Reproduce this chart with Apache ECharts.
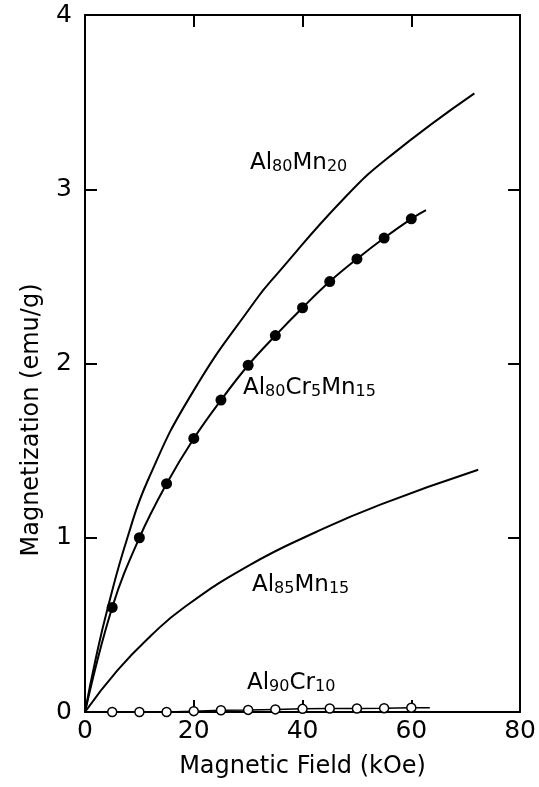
<!DOCTYPE html>
<html>
<head>
<meta charset="utf-8">
<script src="https://cdn.jsdelivr.net/npm/echarts@6/dist/echarts.min.js"></script>
<style>
  html, body { margin: 0; padding: 0; background: #fff; }
  #chart { width: 539px; height: 787px; }
</style>
</head>
<body>
<div id="chart"></div>
<script>
// Al80Mn20 (solid curve, no markers)
const mn20Field = [0, 2, 4.2, 7.8, 11.7, 19.7, 31.3, 35.5, 47.7, 56.1, 71.6];
const mn20Mag = [0, 0.31, 0.60, 1.00, 1.34, 1.83, 2.36, 2.52, 2.95, 3.19, 3.55];

// Al80Cr5Mn15 (filled dots, line from origin to past last dot)
const crMnField = [0, 5, 10, 15, 20, 25, 30, 35, 40, 45, 50, 55, 60, 62.7];
const crMnMag = [0, 0.60, 1.00, 1.31, 1.57, 1.79, 1.99, 2.16, 2.32, 2.47, 2.60, 2.72, 2.83, 2.88];

// Al85Mn15 (solid curve)
const mn15Field = [0, 6, 12.2, 18.2, 30.1, 42.3, 54.3, 72.3];
const mn15Mag = [0, 0.24, 0.44, 0.60, 0.84, 1.03, 1.19, 1.39];

// Al90Cr10 (open circles)
const cr10Field = [0, 5, 10, 15, 20, 25, 30, 35, 40, 45, 50, 55, 60, 63.4];
const cr10Mag = [0, 0, 0, 0, 0.005, 0.01, 0.012, 0.015, 0.018, 0.02, 0.02, 0.022, 0.025, 0.025];

const xTicks = [0, 20, 40, 60, 80];
const yTicks = [0, 1, 2, 3, 4];

const FONT = 'DejaVu Sans';

function pairs(xs, ys, lastNoSymbol) {
  return xs.map((x, i) => {
    const item = { value: [x, ys[i]] };
    if (i === 0 || (lastNoSymbol && i === xs.length - 1)) item.symbol = 'none';
    return item;
  });
}

function labelRich(text) {
  return {
    text: text,
    rich: {
      a: { fontSize: 23, fontFamily: FONT, color: '#000', lineHeight: 26, verticalAlign: 'bottom' },
      b: { fontSize: 16, fontFamily: FONT, color: '#000', lineHeight: 18, verticalAlign: 'bottom' }
    }
  };
}

const axisLine = { show: true, onZero: false, lineStyle: { color: '#000', width: 2 } };
const axisTick = { show: true, inside: true, length: 12, lineStyle: { color: '#000', width: 2 } };

const chart = echarts.init(document.getElementById('chart'));

const option = {
  animation: false,
  backgroundColor: '#fff',
  grid: { left: 85, right: 15, top: 15, bottom: 75 },
  xAxis: [
    {
      type: 'value', position: 'bottom',
      min: xTicks[0], max: xTicks[xTicks.length - 1], interval: 20,
      axisLine: axisLine, axisTick: axisTick,
      axisLabel: { color: '#000', fontSize: 25, fontFamily: FONT, margin: 7 },
      splitLine: { show: false },
      name: 'Magnetic Field (kOe)', nameLocation: 'middle', nameGap: 43,
      nameTextStyle: { color: '#000', fontSize: 24, fontFamily: FONT }
    },
    {
      type: 'value', position: 'top',
      min: xTicks[0], max: xTicks[xTicks.length - 1], interval: 20,
      axisLine: axisLine, axisTick: axisTick,
      axisLabel: { show: false }, splitLine: { show: false }
    }
  ],
  yAxis: [
    {
      type: 'value', position: 'left',
      min: yTicks[0], max: yTicks[yTicks.length - 1], interval: 1,
      axisLine: axisLine, axisTick: axisTick,
      axisLabel: { color: '#000', fontSize: 25, fontFamily: FONT, margin: 13 },
      splitLine: { show: false }
    },
    {
      type: 'value', position: 'right',
      min: yTicks[0], max: yTicks[yTicks.length - 1], interval: 1,
      axisLine: axisLine, axisTick: axisTick,
      axisLabel: { show: false }, splitLine: { show: false }
    }
  ],
  graphic: [
    {
      type: 'text', x: 32, y: 420, rotation: Math.PI / 2,
      style: { text: 'Magnetization (emu/g)', fontSize: 24, fontFamily: FONT, fill: '#000', align: 'center', verticalAlign: 'middle' }
    },
    { type: 'text', left: 250, top: 152, style: labelRich('{a|Al}{b|80}{a|Mn}{b|20}') },
    { type: 'text', left: 243, top: 377, style: labelRich('{a|Al}{b|80}{a|Cr}{b|5}{a|Mn}{b|15}') },
    { type: 'text', left: 252, top: 574, style: labelRich('{a|Al}{b|85}{a|Mn}{b|15}') },
    { type: 'text', left: 247, top: 672, style: labelRich('{a|Al}{b|90}{a|Cr}{b|10}') }
  ],
  series: [
    {
      name: 'Al80Mn20', type: 'line', smooth: 0.5, symbol: 'none', clip: false,
      lineStyle: { color: '#000', width: 2 },
      data: mn20Field.map((x, i) => [x, mn20Mag[i]])
    },
    {
      name: 'Al85Mn15', type: 'line', smooth: 0.5, symbol: 'none', clip: false,
      lineStyle: { color: '#000', width: 2 },
      data: mn15Field.map((x, i) => [x, mn15Mag[i]])
    },
    {
      name: 'Al80Cr5Mn15', type: 'line', smooth: 0.4, clip: false,
      symbol: 'circle', symbolSize: 11, showAllSymbol: true,
      itemStyle: { color: '#000' },
      lineStyle: { color: '#000', width: 2 },
      data: pairs(crMnField, crMnMag, true), z: 3
    },
    {
      name: 'Al90Cr10', type: 'line', clip: false,
      symbol: 'circle', symbolSize: 9, showAllSymbol: true,
      itemStyle: { color: '#fff', borderColor: '#000', borderWidth: 1.5 },
      lineStyle: { color: '#000', width: 1.5 },
      data: pairs(cr10Field, cr10Mag, true), z: 4
    }
  ]
};

chart.setOption(option);
</script>
</body>
</html>
